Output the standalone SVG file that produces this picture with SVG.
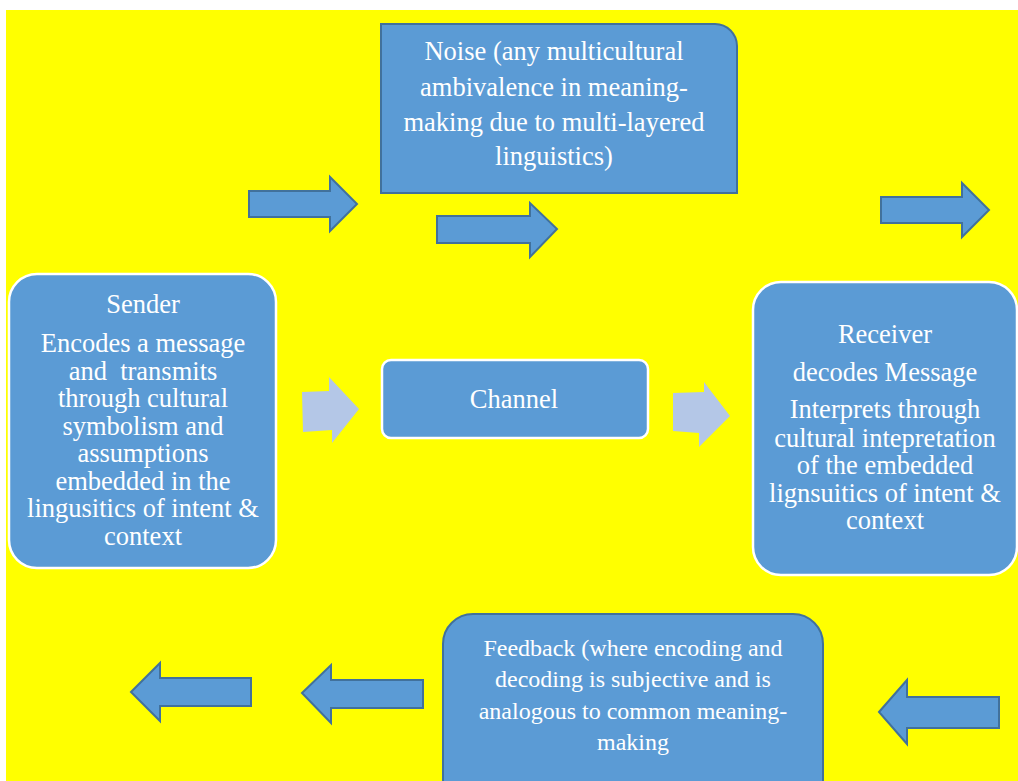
<svg xmlns="http://www.w3.org/2000/svg" width="1018" height="781" viewBox="0 0 1018 781">
<style>
.bg{fill:#FFFF00}
.box{fill:#5B9BD5;stroke:#41719C;stroke-width:2}
.wbox{fill:#5B9BD5;stroke:#FFFFFF;stroke-width:2.5}
.arr{fill:#5B9BD5;stroke:#41719C;stroke-width:2;stroke-linejoin:miter}
.larr{fill:#B4C7E7;stroke:none}
text{font-family:"Liberation Serif","Times New Roman",serif;fill:#FFFFFF;text-anchor:middle}
.t1{font-size:26.5px}
.t2{font-size:24px}
</style>
<rect x="0" y="0" width="1018" height="781" fill="#FFFFFF"/>
<rect class="bg" x="6" y="10" width="1012" height="771"/>

<g id="noise">
<path class="box" d="M381,24 H715 A22,22 0 0 1 737,46 V193 H381 Z"/>
<text class="t1" x="554" y="60">Noise (any multicultural</text>
<text class="t1" x="554" y="96">ambivalence in meaning-</text>
<text class="t1" x="554" y="131">making due to multi-layered</text>
<text class="t1" x="554" y="165">linguistics)</text>
</g>

<g id="sender">
<rect class="wbox" x="9" y="274" width="267" height="294" rx="28" ry="28"/>
<text class="t1" x="143" y="313">Sender</text>
<text class="t1" x="143" y="352">Encodes a message</text>
<text class="t1" x="143" y="380" xml:space="preserve">and  transmits</text>
<text class="t1" x="143" y="407">through cultural</text>
<text class="t1" x="143" y="435">symbolism and</text>
<text class="t1" x="143" y="462">assumptions</text>
<text class="t1" x="143" y="490">embedded in the</text>
<text class="t1" x="143" y="517">lingusitics of intent &amp;</text>
<text class="t1" x="143" y="545">context</text>
</g>

<g id="channel">
<rect class="wbox" x="382" y="360" width="266" height="78" rx="9" ry="9"/>
<text class="t1" x="514" y="408">Channel</text>
</g>

<g id="receiver">
<rect class="wbox" x="753" y="282" width="264" height="293" rx="28" ry="28"/>
<text class="t1" x="885" y="343">Receiver</text>
<text class="t1" x="885" y="381">decodes Message</text>
<text class="t1" x="885" y="418">Interprets through</text>
<text class="t1" x="885" y="447">cultural intepretation</text>
<text class="t1" x="885" y="474">of the embedded</text>
<text class="t1" x="885" y="502">lignsuitics of intent &amp;</text>
<text class="t1" x="885" y="529">context</text>
</g>

<g id="feedback">
<path class="box" d="M443,790 V644 A30,30 0 0 1 473,614 H793 A30,30 0 0 1 823,644 V790 Z"/>
<text class="t2" x="633" y="656">Feedback (where encoding and</text>
<text class="t2" x="633" y="687">decoding is subjective and is</text>
<text class="t2" x="633" y="719">analogous to common meaning-</text>
<text class="t2" x="633" y="750">making</text>
</g>

<g id="connectors">
<polygon class="arr" points="249,191 330,191 330,177 357,204 330,231 330,217 249,217"/>
<polygon class="arr" points="437,216 530,216 530,203 557,229 530,257 530,243 437,243"/>
<polygon class="arr" points="881,197 962,197 962,183 989,210 962,237 962,223 881,223"/>
<polygon class="larr" points="302,392 329,391 329,377 359,409 332,443 332,430 303,432"/>
<polygon class="larr" points="673,393 704,392 704,382 730,416 699,447 699,433 673,431"/>
<polygon class="arr" points="879,712 907,680 907,697 999,697 999,728 907,728 907,744"/>
<polygon class="arr" points="302,693 331,665 331,680 423,680 423,708 331,708 331,723"/>
<polygon class="arr" points="131,692 160,663 160,678 251,678 251,706 160,706 160,721"/>
</g>
</svg>
